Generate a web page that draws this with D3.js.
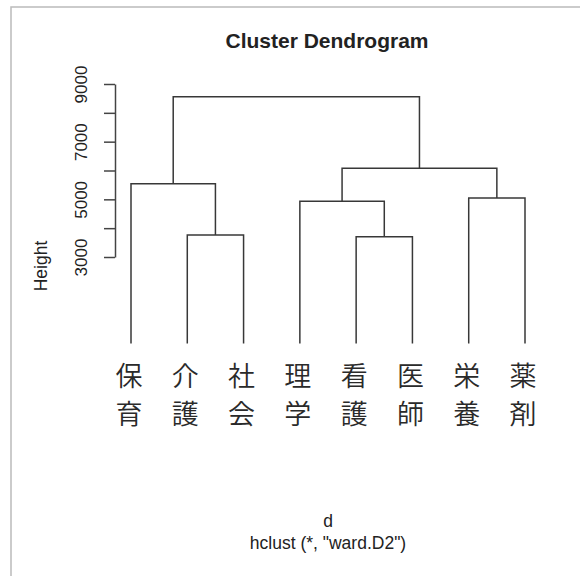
<!DOCTYPE html>
<html>
<head>
<meta charset="utf-8">
<script src="https://cdn.jsdelivr.net/npm/d3@7"></script>
<style>
  body { margin: 0; background: #fff; }
  svg { display: block; }
  text { font-family: "Liberation Sans", Arial, Helvetica, sans-serif; fill: #222; }
</style>
</head>
<body>
<svg width="580" height="576"></svg>
<script>
// leaf labels in plotting order (each is two characters stacked)
const labels = ['保育', '介護', '社会', '理学', '看護', '医師', '栄養', '薬剤'];
// hclust style merges: negative = leaf index (1-based), positive = earlier merge row
const mergeLeft  = [-5, -2, -4, -7, -1, 3, 5];
const mergeRight = [-6, -3,  1, -8,  2, 4, 6];
const mergeHeight = [3700, 3760, 4930, 5050, 5540, 6080, 8560];
const tickVals = [3000, 4000, 5000, 6000, 7000, 8000, 9000];
const tickShown = [3000, 5000, 7000, 9000];

const svg = d3.select('svg');
const W = +svg.attr('width');
const H = +svg.attr('height');

// frame (only top and left edges are visible in the crop)
svg.append('path')
    .attr('d', `M11,${H} L11,7 L${W},7`)
    .attr('fill', 'none')
    .attr('stroke', '#bbb')
    .attr('stroke-width', 1.5)

const x = d3.scalePoint().domain(labels).range([131, 525]);
const y = d3.scaleLinear().domain([3000, 9000]).range([257, 84]);

// position of every node: leaves at height 0, merges at midpoint of children
const nodeX = [], nodeY = [];
function pos(i) {
    if (i < 0) return [x(labels[-i - 1]), y(0)];
    return [nodeX[i - 1], nodeY[i - 1]];
}
const g = svg.append('g');
mergeHeight.forEach((h, k) => {
    const a = pos(mergeLeft[k]);
    const b = pos(mergeRight[k]);
    const yy = y(h);
    nodeX.push((a[0] + b[0]) / 2);
    nodeY.push(yy);
    g.append('path')
        .attr('d', `M${a[0]},${a[1]} L${a[0]},${yy} L${b[0]},${yy} L${b[0]},${b[1]}`)
        .attr('fill', 'none')
        .attr('stroke', '#383838')
        .attr('stroke-width', 1.5)
});

// y axis
const ax = svg.append('g')
    .attr('transform', 'translate(115,0)')
    .call(d3.axisLeft(y)
        .tickValues(tickVals)
        .tickSize(11)
        .tickSizeOuter(0)
        .tickFormat(d => tickShown.includes(d) ? d : ''));
ax.select('.domain').attr('stroke', '#444').attr('stroke-width', 1.5);
ax.selectAll('line').attr('stroke', '#444').attr('stroke-width', 1.5);
ax.selectAll('text')
    .attr('transform', 'rotate(-90)')
    .attr('x', 0)
    .attr('y', -28)
    .attr('dy', 0)
    .attr('text-anchor', 'middle')
    .style('font-family', '"Liberation Sans", Arial, sans-serif')
    .style('font-size', '17px')
    .attr('fill', '#222');

// leaf labels, one character per line
labels.forEach(l => {
    [...l].forEach((c, j) => {
        svg.append('text')
            .attr('x', x(l) - 2)
            .attr('y', 374 + j * 38)
            .attr('text-anchor', 'middle')
            .attr('dominant-baseline', 'central')
            .style('font-family', '"Noto Sans CJK JP", "Noto Sans CJK SC", sans-serif')
            .style('font-size', '27px')
            .style('font-weight', 350)
            .style('fill', '#2a2a2a')
            .text(c)
    })
});

// titles
svg.append('text')
    .attr('x', 327).attr('y', 48)
    .attr('text-anchor', 'middle')
    .style('font-size', '21px')
    .style('font-weight', 'bold')
    .text('Cluster Dendrogram')

svg.append('text')
    .attr('transform', 'translate(47,266) rotate(-90)')
    .attr('text-anchor', 'middle')
    .style('font-size', '17.5px')
    .text('Height')

svg.append('text')
    .attr('x', 328).attr('y', 527)
    .attr('text-anchor', 'middle')
    .style('font-size', '17.5px')
    .text('d')

svg.append('text')
    .attr('x', 328).attr('y', 549)
    .attr('text-anchor', 'middle')
    .style('font-size', '17.5px')
    .text('hclust (*, "ward.D2")')
</script>
</body>
</html>
